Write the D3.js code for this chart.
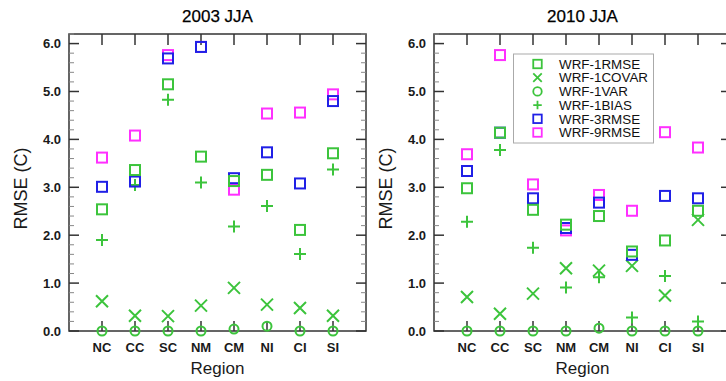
<!DOCTYPE html>
<html>
<head>
<meta charset="utf-8">
<script src="https://cdn.jsdelivr.net/npm/d3@7"></script>
<style>
  html, body { margin: 0; padding: 0; background: #fff; }
  svg { display: block; font-family: "Liberation Sans", Arial, Helvetica, sans-serif; }
</style>
</head>
<body>
<svg id="chart" width="726" height="381"></svg>
<script>
// Regions along the x axis
const regions = ["NC", "CC", "SC", "NM", "CM", "NI", "CI", "SI"];
const yTicks = [0, 1, 2, 3, 4, 5, 6];

// Summer (JJA) 2003 temperature errors, deg C
const jja2003_1rmse  = [2.54, 3.36, 5.15, 3.64, 3.13, 3.26, 2.11, 3.71];
const jja2003_1covar = [0.62, 0.32, 0.31, 0.53, 0.90, 0.55, 0.48, 0.32];
const jja2003_1var   = [0.00, 0.00, 0.00, 0.00, 0.04, 0.10, 0.00, 0.00];
const jja2003_1bias  = [1.90, 3.05, 4.83, 3.10, 2.18, 2.61, 1.61, 3.37];
const jja2003_3rmse  = [3.01, 3.12, 5.69, 5.93, 3.19, 3.73, 3.08, 4.80];
const jja2003_9rmse  = [3.62, 4.08, 5.76, 5.93, 2.95, 4.54, 4.56, 4.94];

// Summer (JJA) 2010 temperature errors, deg C
const jja2010_1rmse  = [2.98, 4.14, 2.53, 2.22, 2.40, 1.66, 1.89, 2.51];
const jja2010_1covar = [0.71, 0.36, 0.78, 1.31, 1.26, 1.36, 0.74, 2.32];
const jja2010_1var   = [0.00, 0.00, 0.00, 0.00, 0.06, 0.00, 0.00, 0.00];
const jja2010_1bias  = [2.28, 3.78, 1.74, 0.91, 1.12, 0.28, 1.15, 0.20];
const jja2010_3rmse  = [3.34, 4.14, 2.77, 2.15, 2.68, 1.59, 2.82, 2.77];
const jja2010_9rmse  = [3.69, 5.76, 3.06, 2.10, 2.84, 2.51, 4.15, 3.83];

const GREEN = "#3cc43c", BLUE = "#2020e6", MAGENTA = "#ff30ff", FRAME = "#333";

// Legend entries in display order
const legendNames = ["WRF-1RMSE", "WRF-1COVAR", "WRF-1VAR", "WRF-1BIAS", "WRF-3RMSE", "WRF-9RMSE"];
const legendShapes = ["square", "cross", "circle", "plus", "square", "square"];
const legendColors = [GREEN, GREEN, GREEN, GREEN, BLUE, MAGENTA];

const svg = d3.select("#chart");
const panelW = 297, plotTop = 34, plotBottom = 331;

// Draws a single marker centred at (cx, cy)
function marker(g, shape, cx, cy, color, s, sw) {
  if (shape === "square") {
    g.append("rect").attr("x", cx - s / 2).attr("y", cy - s / 2)
      .attr("width", s).attr("height", s)
      .attr("fill", "none").attr("stroke", color).attr("stroke-width", sw);
  } else if (shape === "circle") {
    g.append("circle").attr("cx", cx).attr("cy", cy).attr("r", s / 2)
      .attr("fill", "none").attr("stroke", color).attr("stroke-width", sw);
  } else if (shape === "cross") {
    const h = s / 2;
    g.append("path").attr("d", `M${cx - h},${cy - h}L${cx + h},${cy + h}M${cx - h},${cy + h}L${cx + h},${cy - h}`)
      .attr("stroke", color).attr("stroke-width", sw).attr("fill", "none");
  } else if (shape === "plus") {
    const h = s / 2;
    g.append("path").attr("d", `M${cx - h},${cy}L${cx + h},${cy}M${cx},${cy - h}L${cx},${cy + h}`)
      .attr("stroke", color).attr("stroke-width", sw).attr("fill", "none");
  }
}

function drawPanel(x0, title, s, withLegend) {
  const x = d3.scaleLinear().domain([0, 9]).range([x0, x0 + panelW]);
  const y = d3.scaleLinear().domain([0, 6.2]).range([plotBottom, plotTop]);
  const g = svg.append("g");

  // Frame
  g.append("rect").attr("x", x0).attr("y", plotTop).attr("width", panelW).attr("height", plotBottom - plotTop)
    .attr("fill", "none").attr("stroke", FRAME).attr("stroke-width", 1.5);

  // Y ticks on both sides, majors every 1.0, minors every 0.2
  const minors = d3.range(0, 6.2001, 0.2);
  const tickG = g.append("g").attr("stroke", FRAME);
  minors.forEach(v => {
    const major = Math.abs(v - Math.round(v)) < 1e-6;
    const len = major ? 10 : 5;
    tickG.append("line").attr("x1", x0).attr("x2", x0 + len).attr("y1", y(v)).attr("y2", y(v))
      .attr("stroke-width", major ? 1.5 : 1).attr("stroke", major ? FRAME : "#888");
    tickG.append("line").attr("x1", x0 + panelW).attr("x2", x0 + panelW - len).attr("y1", y(v)).attr("y2", y(v))
      .attr("stroke-width", major ? 1.5 : 1).attr("stroke", major ? FRAME : "#888");
  });
  // X ticks on top and bottom
  regions.forEach((r, i) => {
    tickG.append("line").attr("x1", x(i + 1)).attr("x2", x(i + 1)).attr("y1", plotTop).attr("y2", plotTop + 11).attr("stroke-width", 1.5);
    tickG.append("line").attr("x1", x(i + 1)).attr("x2", x(i + 1)).attr("y1", plotBottom).attr("y2", plotBottom - 10).attr("stroke-width", 1.5);
  });

  // Tick labels
  g.selectAll("text.ylab").data(yTicks).join("text")
    .attr("x", x0 - 8).attr("y", d => y(d) + 4.5)
    .attr("text-anchor", "end").attr("font-size", 13).attr("font-weight", "bold").attr("fill", "#1a1a1a")
    .text(d => d.toFixed(1));
  g.selectAll("text.xlab").data(regions).join("text")
    .attr("x", (d, i) => x(i + 1)).attr("y", 352)
    .attr("text-anchor", "middle").attr("font-size", 13).attr("font-weight", "bold").attr("fill", "#1a1a1a")
    .text(d => d);

  // Titles
  g.append("text").attr("x", x0 + panelW / 2).attr("y", 22).attr("text-anchor", "middle")
    .attr("font-size", 17).attr("fill", "#000").attr("stroke", "#000").attr("stroke-width", 0.25).text(title);
  g.append("text").attr("x", x0 + panelW / 2).attr("y", 374).attr("text-anchor", "middle")
    .attr("font-size", 17).attr("fill", "#1a1a1a").text("Region");
  g.append("text").attr("transform", `translate(${x0 - 42},${(plotTop + plotBottom) / 2 + 6}) rotate(-90)`)
    .attr("text-anchor", "middle").attr("font-size", 18).attr("fill", "#1a1a1a").text("RMSE (C)");

  // Markers
  const mg = g.append("g");
  const series = [
    [s.var1, "circle", GREEN, 9],
    [s.covar1, "cross", GREEN, 12],
    [s.bias1, "plus", GREEN, 12],
    [s.rmse9, "square", MAGENTA, 10],
    [s.rmse3, "square", BLUE, 10],
    [s.rmse1, "square", GREEN, 10]
  ];
  series.forEach(([vals, shape, color, size]) => {
    vals.forEach((v, i) => marker(mg, shape, x(i + 1), y(v), color, size, 2));
  });

  if (withLegend) {
    const lg = g.append("g");
    lg.append("rect").attr("x", 513.5).attr("y", 54).attr("width", 140).attr("height", 89)
      .attr("fill", "#fff").attr("stroke", "#aaa").attr("stroke-width", 1);
    legendNames.forEach((name, i) => {
      const cy = 64 + i * 13.7;
      marker(lg, legendShapes[i], 537.5, cy, legendColors[i], 8.5, 1.8);
      lg.append("text").attr("x", 559).attr("y", cy + 4.7).attr("font-size", 13.4).attr("fill", "#111").text(name);
    });
  }
}

drawPanel(69, "2003 JJA", {
  rmse1: jja2003_1rmse, covar1: jja2003_1covar, var1: jja2003_1var,
  bias1: jja2003_1bias, rmse3: jja2003_3rmse, rmse9: jja2003_9rmse
}, false);
drawPanel(434, "2010 JJA", {
  rmse1: jja2010_1rmse, covar1: jja2010_1covar, var1: jja2010_1var,
  bias1: jja2010_1bias, rmse3: jja2010_3rmse, rmse9: jja2010_9rmse
}, true);
</script>
</body>
</html>
